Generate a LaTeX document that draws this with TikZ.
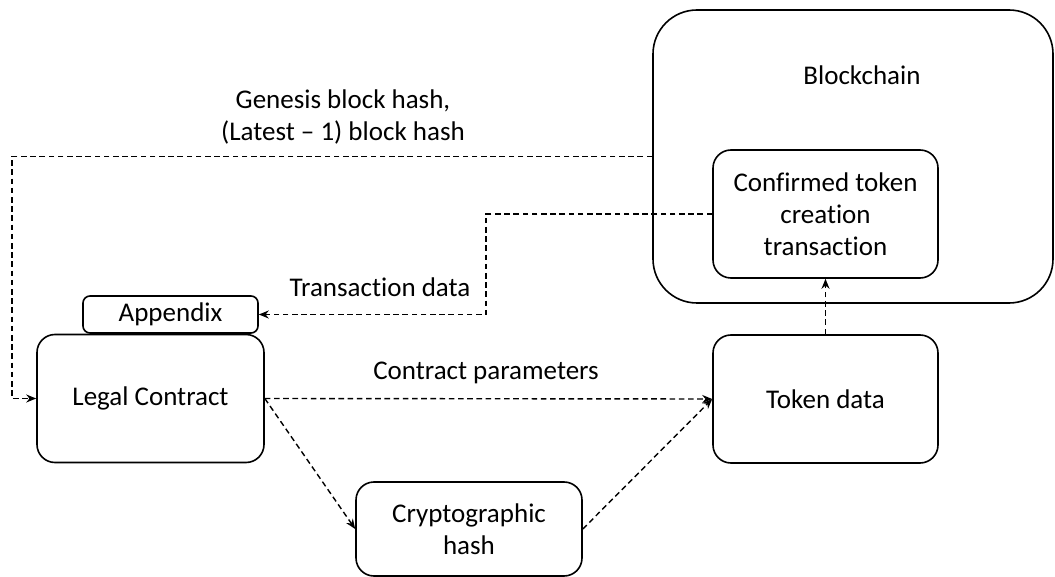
\documentclass[tikz,border=0pt]{standalone}
\usepackage{fontspec}
\setmainfont{Carlito}[Ligatures=NoCommon]
\usetikzlibrary{positioning}
\usetikzlibrary{arrows.meta}
\tikzset{
    chainbox/.style = {rectangle, draw=black, line width=0.8pt, rounded corners=22pt, minimum width=200pt, minimum height=146.5pt},
    stepbox/.style = {rectangle, draw=black, line width=0.8pt, rounded corners=9pt, align=center, inner sep=0pt, minimum width=112.5pt, minimum height=64pt},
    tabbox/.style = {rectangle, draw=black, line width=0.8pt, rounded corners=3.5pt, inner sep=0pt, minimum width=87.5pt, minimum height=18.5pt},
    flow/.style = {-{Stealth[length=5pt,width=4pt]}, line width=0.7pt, dash pattern=on 2.8pt off 1.8pt},
    lbl/.style = {align=center, inner sep=0pt}
}

\begin{document}
\begin{tikzpicture}[x=0.5pt, y=-0.5pt, font=\fontsize{13.5}{16}\selectfont]
\useasboundingbox (0,0) rectangle (1055,577);
\node[chainbox] at (853.0, 156.5) (chain) {};
\node[lbl] at (862.0, 75.0) (chaintxt) {Blockchain};
\node[stepbox] at (825.5, 214.0) (confirmed) {Confirmed token\\creation\\transaction};
\node[tabbox] at (170.5, 314.5) (appendix) {Appendix};
\node[stepbox, minimum width=113.5pt] at (150.5, 398.5) (legal) {Legal Contract};
\node[stepbox] at (825.5, 399.0) (token) {Token data};
\node[stepbox, minimum width=113pt, minimum height=47pt] at (469.0, 529.0) (crypto) {Cryptographic\\hash};
%
\node[lbl] at (343.0, 117.5) (genesis) {Genesis block hash,\\(Latest -- 1) block hash};
\node[lbl] at (380.0, 287.0) (txdata) {Transaction data};
\node[lbl] at (486.0, 373.0) (params) {Contract parameters};
%
\coordinate (gbend) at (12.0, 398.5);
\coordinate (tbend) at (486.0, 314.5);
\draw[flow] (chain.west) -| (gbend) -- (legal.west);
\draw[flow] (confirmed.west) -| (tbend) -- (appendix.east);
\draw[flow] (legal.east) -- (token.west);
\draw[flow] (legal.east) -- (crypto.west);
\draw[flow] (crypto.east) -- (token.west);
\draw[flow] (token.north) -- (confirmed.south);
\end{tikzpicture}
\end{document}
